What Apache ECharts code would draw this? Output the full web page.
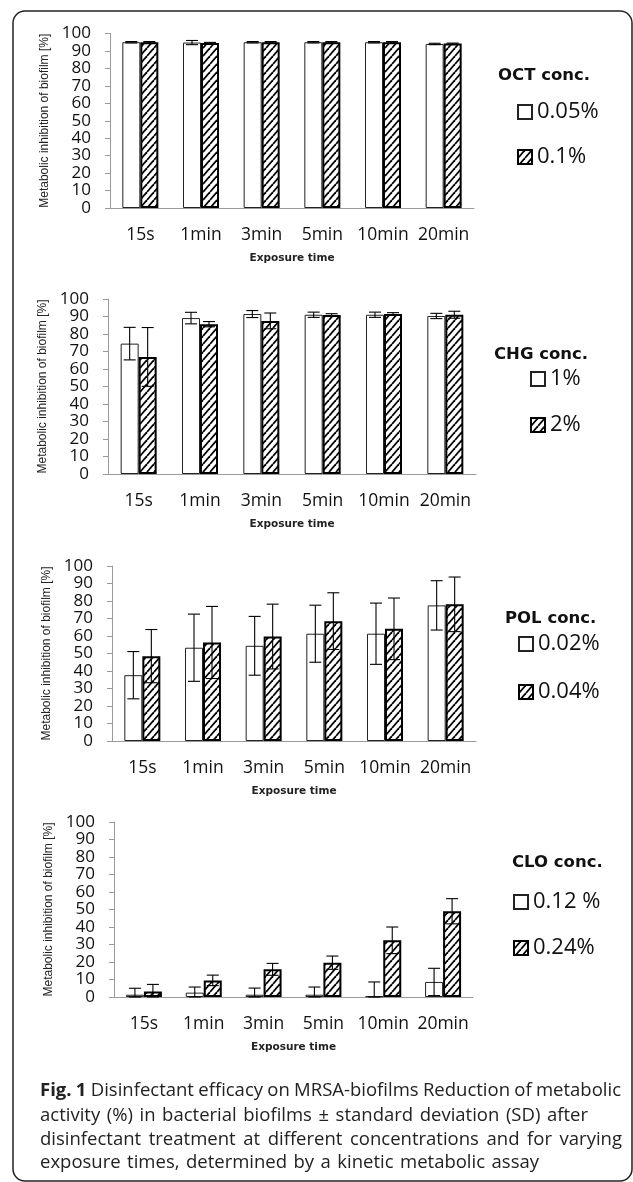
<!DOCTYPE html>
<html><head><meta charset="utf-8">
<script src="https://cdn.jsdelivr.net/npm/echarts@6/dist/echarts.min.js"></script>
<style>html,body{margin:0;padding:0;background:#fff}#c{width:633px;height:1182px}</style>
</head><body><div id="c"></div>
<script>
// ---------------- DATA ----------------
const categories = ['15s', '1min', '3min', '5min', '10min', '20min'];

const octLowMean  = [95.0, 94.8, 95.0, 95.0, 95.0, 94.0];
const octLowSD    = [0.4, 1.2, 0.4, 0.4, 0.4, 0.4];
const octHighMean = [95.0, 94.5, 95.0, 95.0, 95.0, 94.2];
const octHighSD   = [0.4, 0.4, 0.4, 0.4, 0.4, 0.3];

const chgLowMean  = [74.5, 89.1, 91.4, 91.0, 91.0, 90.3];
const chgLowSD    = [9.3, 3.3, 2.0, 1.5, 1.5, 1.5];
const chgHighMean = [66.9, 85.6, 87.5, 90.8, 91.5, 91.0];
const chgHighSD   = [16.8, 1.5, 4.5, 0.8, 0.7, 2.0];

const polLowMean  = [37.6, 53.3, 54.4, 61.3, 61.3, 77.5];
const polLowSD    = [13.5, 19.2, 16.8, 16.3, 17.5, 14.1];
const polHighMean = [48.5, 56.3, 59.7, 68.5, 64.1, 78.1];
const polHighSD   = [15.2, 20.6, 18.5, 16.2, 17.6, 15.6];

const cloLowMean  = [1.3, 2.5, 1.3, 1.3, 0.4, 8.6];
const cloLowSD    = [3.7, 3.2, 3.8, 4.4, 8.2, 7.8];
const cloHighMean = [3.2, 9.5, 15.8, 19.6, 32.4, 49.0];
const cloHighSD   = [4.0, 3.0, 3.4, 3.8, 7.6, 7.2];

const panelTitles = ['OCT conc.', 'CHG conc.', 'POL conc.', 'CLO conc.'];
const seriesNames = [['0.05%', '0.1%'], ['1%', '2%'], ['0.02%', '0.04%'], ['0.12 %', '0.24%']];
const xAxisTitle = 'Exposure time';
const yAxisTitle = 'Metabolic inhibition of biofilm [%]';
const captionLines = [
  'Fig. 1 Disinfectant efficacy on MRSA-biofilms Reduction of metabolic',
  'activity (%) in bacterial biofilms ± standard deviation (SD) after',
  'disinfectant treatment at different concentrations and for varying',
  'exposure times, determined by a kinetic metabolic assay'
];

// ---------------- LAYOUT / STYLE ----------------
const panelData = [
  [octLowMean, octLowSD, octHighMean, octHighSD],
  [chgLowMean, chgLowSD, chgHighMean, chgHighSD],
  [polLowMean, polLowSD, polHighMean, polHighSD],
  [cloLowMean, cloLowSD, cloHighMean, cloHighSD]
];
const grids = [
  {left: 110, top: 33.5, width: 364, height: 174.5},
  {left: 108, top: 299, width: 368, height: 175},
  {left: 112, top: 566, width: 364, height: 175},
  {left: 114, top: 822, width: 359, height: 175}
];
const titlePos = [[498, 76], [494, 355], [505, 619], [512, 863]];
const legendPos = [[517, 112], [530, 379], [518, 644], [513, 902]];
const legendStep = [45, 46, 48, 46];
const BAR_W = 18;
const CAP = 6;
const captionLayout = [[40, 621, 1091], [40, 588, 1116], [40, 622, 1140], [40, 539, 1163]];
const CAP_FONT = 18.5;

function makeHatch() {
  const w = 7, h = 8;
  const c = document.createElement('canvas');
  c.width = w; c.height = h;
  const g = c.getContext('2d');
  g.fillStyle = '#fff'; g.fillRect(0, 0, w, h);
  g.strokeStyle = '#000'; g.lineWidth = 1.8;
  for (const dx of [-w, 0, w]) {
    g.beginPath(); g.moveTo(dx, h); g.lineTo(dx + w, 0); g.stroke();
  }
  return c;
}
const hatch = {image: makeHatch(), repeat: 'repeat'};

function errRender(sign) {
  return function (params, api) {
    const i = api.value(0), m = api.value(1), sd = api.value(2);
    const c = api.coord([i, m]);
    const x = c[0] + sign * BAR_W / 2;
    const yt = api.coord([i, m + sd])[1];
    const yb = api.coord([i, Math.max(m - sd, 0)])[1];
    const st = {stroke: '#000', lineWidth: 1.1};
    return {type: 'group', children: [
      {type: 'line', shape: {x1: x, y1: yt, x2: x, y2: yb}, style: st},
      {type: 'line', shape: {x1: x - CAP, y1: yt, x2: x + CAP, y2: yt}, style: st},
      {type: 'line', shape: {x1: x - CAP, y1: yb, x2: x + CAP, y2: yb}, style: st}
    ]};
  };
}

const option = {
  animation: false,
  backgroundColor: '#fff',
  grid: [], xAxis: [], yAxis: [], series: [], title: [], legend: [], graphic: []
};

panelData.forEach((d, p) => {
  option.grid.push(Object.assign({containLabel: false}, grids[p]));
  option.xAxis.push({
    type: 'category', gridIndex: p, data: categories,
    axisLine: {lineStyle: {color: '#9a9a9a', width: 1}},
    axisTick: {length: 5, lineStyle: {color: '#9a9a9a'}},
    axisLabel: {interval: 0, margin: 18, fontFamily: 'Open Sans', fontSize: 17.5, color: '#111'},
    name: xAxisTitle, nameLocation: 'middle', nameGap: 45,
    nameTextStyle: {fontFamily: 'DejaVu Sans', fontWeight: 'bold', fontSize: 10.5, color: '#222'}
  });
  option.yAxis.push({
    type: 'value', gridIndex: p, min: 0, max: 100, interval: 10,
    splitLine: {show: false},
    axisLine: {show: true, lineStyle: {color: '#9a9a9a', width: 1}},
    axisTick: {show: true, length: 5, lineStyle: {color: '#9a9a9a'}},
    axisLabel: {margin: 19, fontFamily: 'Open Sans', fontSize: 17, color: '#111'},
    name: yAxisTitle, nameLocation: 'middle', nameRotate: 90, nameGap: 58,
    nameTextStyle: {fontFamily: 'Liberation Sans', fontSize: 12, color: '#222'}
  });
  const [lowM, lowS, highM, highS] = d;
  option.series.push({
    type: 'bar', name: seriesNames[p][0], xAxisIndex: p, yAxisIndex: p,
    data: lowM, barWidth: BAR_W, barGap: '0%',
    itemStyle: {color: '#fff', borderColor: '#222', borderWidth: 1}
  });
  option.series.push({
    type: 'bar', name: seriesNames[p][1], xAxisIndex: p, yAxisIndex: p,
    data: highM, barWidth: BAR_W, barGap: '0%',
    itemStyle: {color: hatch, borderColor: '#000', borderWidth: 2}
  });
  option.series.push({
    type: 'custom', xAxisIndex: p, yAxisIndex: p, z: 5, clip: false,
    renderItem: errRender(-1), encode: {x: 0, y: 1},
    data: lowM.map((v, i) => [i, v, lowS[i]])
  });
  option.series.push({
    type: 'custom', xAxisIndex: p, yAxisIndex: p, z: 5, clip: false,
    renderItem: errRender(1), encode: {x: 0, y: 1},
    data: highM.map((v, i) => [i, v, highS[i]])
  });
  option.title.push({
    text: panelTitles[p], left: titlePos[p][0], top: titlePos[p][1] - 9, padding: 0,
    textStyle: {fontFamily: 'DejaVu Sans', fontWeight: 'bold', fontSize: 16.5, color: '#111'}
  });
  option.legend.push({
    data: seriesNames[p], orient: 'vertical', left: legendPos[p][0], top: legendPos[p][1] - 11,
    padding: 0, itemWidth: 14, itemHeight: 14, itemGap: legendStep[p] - 22, icon: 'rect',
    selectedMode: false,
    textStyle: {fontFamily: 'Open Sans', fontSize: 22, color: '#111', padding: [0, 0, 0, 0]}
  });
});

// frame
option.graphic.push({
  type: 'rect', shape: {x: 13, y: 11, width: 619, height: 1170, r: 12},
  style: {fill: 'none', stroke: '#222', lineWidth: 1.5}, silent: true
});

// caption (justified word placement)
const mctx = document.createElement('canvas').getContext('2d');
captionLines.forEach((line, li) => {
  const [x0, x1, yc] = captionLayout[li];
  const words = line.split(' ');
  const fonts = words.map((w, wi) => (li === 0 && wi < 2) ? 'bold' : 'normal');
  const widths = words.map((w, wi) => {
    mctx.font = fonts[wi] + ' ' + CAP_FONT + 'px "Open Sans"';
    return mctx.measureText(w).width;
  });
  const total = widths.reduce((a, b) => a + b, 0);
  const gap = (x1 - x0 - total) / (words.length - 1);
  let x = x0;
  words.forEach((w, wi) => {
    option.graphic.push({
      type: 'text', x: x, y: yc,
      style: {text: w, font: fonts[wi] + ' ' + CAP_FONT + 'px "Open Sans"', fill: '#222',
        textVerticalAlign: 'middle', verticalAlign: 'middle'}
    });
    x += widths[wi] + gap;
  });
});

const chart = echarts.init(document.getElementById('c'), null, {renderer: 'canvas'});
chart.setOption(option);
</script></body></html>
